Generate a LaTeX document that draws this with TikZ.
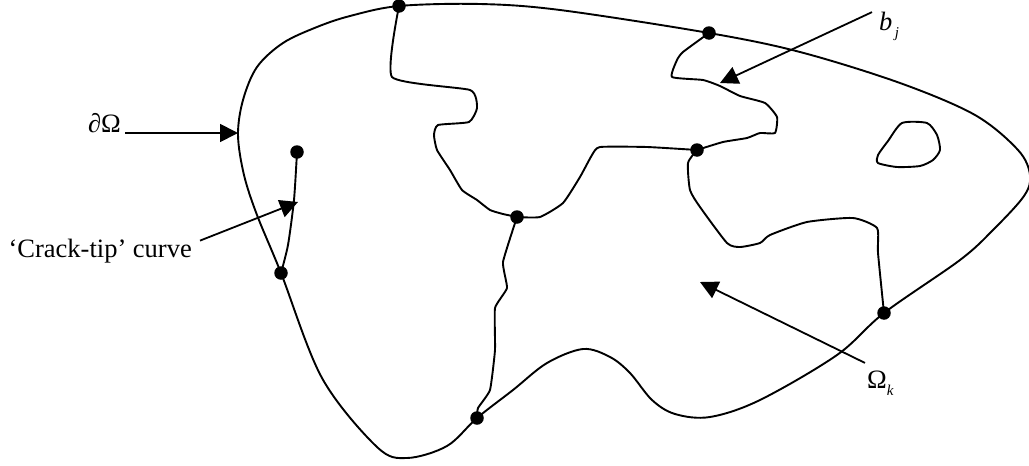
\documentclass[tikz,border=0pt]{standalone}
\usepackage{fontspec}
\setmainfont{Liberation Serif}
\usetikzlibrary{arrows.meta}
\begin{document}
\begin{tikzpicture}[x=1pt,y=-1pt,
  curve/.style={line width=1.9pt,line join=round,line cap=round},
  dot/.style={circle,fill=black,inner sep=0pt,minimum size=13.5pt},
  lbl/.style={font=\fontsize{26.5}{30}\selectfont,inner sep=0pt},
  pointer/.style={line width=1.8pt,-{Triangle[length=18pt,width=18pt]}}]
\useasboundingbox (0,0) rectangle (1029,466);
% crack junction points
\coordinate (D1) at (399,6);
\coordinate (D2) at (709,33);
\coordinate (D3) at (697,150);
\coordinate (D4) at (517,217);
\coordinate (D5) at (477,418);
\coordinate (D6) at (884,313);
\coordinate (D7) at (297,152);
\coordinate (D8) at (281,273);
% outer boundary
\draw[curve] plot[smooth cycle,tension=0.55] coordinates {
  (D1) (480,4) (560,10) (D2) (800,52) (900,83) (975,115) (1018,150)
  (1030,175) (1024,196) (993,230) (960,260) (D6) (837,355) (760,400)
  (710,417) (675,414) (652,400) (630,373) (610,357) (583,349) (547,363)
  (513,390) (D5) (447,446) (407,458) (377,447) (322,378)
  (D8) (257,215) (244,175) (238,135) (243,100) (257,67) (283,43)
  (317,27) (350,16)};
% hole
\draw[curve] plot[smooth cycle,tension=0.4] coordinates {
  (902,123) (927,123) (937,135) (940,150) (933,160) (920,166) (897,167)
  (878,163) (878,155) (888,141)};
% cracks
\draw[curve] plot[smooth,tension=0.3] coordinates {
  (D1) (392,77) (470,90) (477,108) (469,122) (438,125) (434,135) (437,150)
  (450,170) (462,190) (477,200) (490,210) (503,214) (D4)};
\draw[curve] plot[smooth,tension=0.3] coordinates {
  (D4) (540,217) (563,203) (580,177) (592,155) (600,147) (647,147) (D3)};
\draw[curve] plot[smooth,tension=0.3] coordinates {
  (D3) (723,142) (747,138) (760,133) (775,133) (777,117) (765,103)
  (740,96) (720,86) (703,80) (672,77) (677,60) (683,52) (D2)};
\draw[curve] plot[smooth,tension=0.35] coordinates {
  (D3) (688,163) (690,190) (700,207) (727,243) (740,247) (760,243)
  (770,235) (807,222) (853,218) (877,228) (878,253) (D6)};
\draw[curve] plot[smooth,tension=0.25] coordinates {
  (D4) (503,262) (507,288) (495,308) (495,350) (490,390) (478,408) (D5)};
\draw[curve] plot[smooth,tension=0.4] coordinates {
  (D7) (294,200) (288,245) (D8)};
% dots
\foreach \p in {1,...,8} \node[dot] (d\p) at (D\p) {};
% labels
\node[lbl,anchor=base east] (lOmega) at (121,132) {∂Ω};
\node[lbl,anchor=base east] (lcrack) at (192,257) {‘Crack-tip’ curve};
\node[lbl,anchor=base west] (lbj) at (879,30) {\itshape b\raisebox{-0.28em}{\fontsize{15}{15}\selectfont\,j}};
\node[lbl,anchor=base west] (lOk) at (867,388) {Ω\raisebox{-0.28em}{\fontsize{15}{15}\selectfont\itshape k}};
% pointer arrows
\coordinate (tOmega) at (238,133);
\coordinate (tcrack) at (298,202);
\coordinate (tbj) at (720,83);
\coordinate (tOk) at (700,282);
\draw[pointer] (125,133) -- (tOmega);
\draw[pointer] (lcrack.east) ++(8,-10) -- (tcrack);
\draw[pointer] (lbj.west) ++(-7,-14) -- (tbj);
\draw[pointer] (lOk.west) ++(-2,-20) -- (tOk);
\end{tikzpicture}
\end{document}
